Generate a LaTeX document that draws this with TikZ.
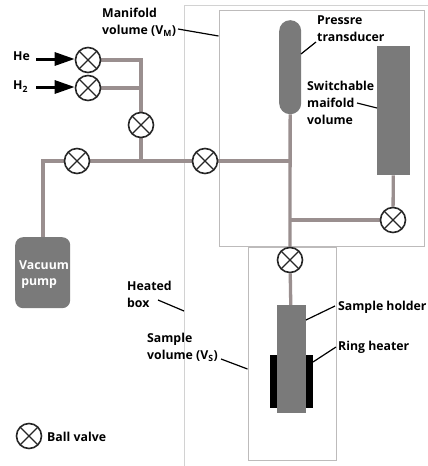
\documentclass[tikz,border=0pt]{standalone}
\usepackage{fontspec}
\setmainfont{Open Sans}
\usetikzlibrary{arrows.meta}
\pgfdeclarelayer{under}
\pgfsetlayers{under,main}
\definecolor{pipecol}{HTML}{9A8F8F}
\definecolor{bodycol}{HTML}{7A7A7A}
\definecolor{boxcol}{HTML}{BDBBBB}
\definecolor{hotcol}{HTML}{D2D2D2}
\tikzset{
  valve/.style={circle,draw=black!85,line width=1.6pt,fill=white,minimum size=25pt,inner sep=0pt,
    path picture={\draw[black!85,line width=1.2pt]
      (path picture bounding box.north west)--(path picture bounding box.south east)
      (path picture bounding box.north east)--(path picture bounding box.south west);}},
  pipe/.style={draw=pipecol,line width=3.3pt},
  body/.style={fill=bodycol,inner sep=0pt,draw=none},
  lab/.style={font=\bfseries\fontsize{12.3}{17}\selectfont,anchor=north west,inner sep=0pt,align=left},
  leader/.style={draw=black,line width=1.2pt},
  feed/.style={draw=black,line width=3pt,-{Triangle[length=20pt,width=13pt]},shorten >=0pt},
  frame/.style={draw=boxcol,line width=0.8pt,inner sep=0pt,fill=white},
}
\begin{document}
\begin{tikzpicture}[x=1pt,y=-1pt]
\useasboundingbox (0,0) rectangle (428,466);
% junctions
\coordinate (jtop) at (141,88);
\coordinate (jmain) at (141,161);
\coordinate (jvert) at (290,161);
\coordinate (jlow) at (290,220);
\coordinate (corner) at (43,161);
\coordinate (jhe) at (141,60);
% valves
\node[valve] (vhe) at (88,60) {};
\node[valve] (vh) at (88,88) {};
\node[valve] (vmid) at (141,125) {};
\node[valve] (vleft) at (77,161) {};
\node[valve] (vcen) at (205,161) {};
\node[valve] (vright) at (393,220) {};
\node[valve] (vbot) at (290,260) {};
\node[valve] (vkey) at (29,436) {};
% bodies
\node[body,anchor=north west,minimum width=55pt,minimum height=71pt,rounded corners=8pt] (pump) at (15,237) {};
\node[body,anchor=north west,minimum width=22pt,minimum height=94pt,rounded corners=10.9pt] (trans) at (279,20) {};
\node[body,anchor=north west,minimum width=33pt,minimum height=129pt] (switch) at (377,46) {};
\node[fill=black,inner sep=0pt,anchor=north west,minimum width=43pt,minimum height=53pt] (ring) at (270,355) {};
\node[body,anchor=north west,minimum width=29pt,minimum height=108pt] (holder) at (277,305) {};
% frames and pipes behind everything
\begin{pgfonlayer}{under}
\draw[hotcol,line width=0.9pt] (428,5) -- (184,5) -- (184,466);
\node[frame,anchor=north west,minimum width=205.5pt,minimum height=236pt] (manifold) at (218.5,10) {};
\node[frame,anchor=north west,minimum width=88.5pt,minimum height=213pt] (samplebox) at (247.5,247) {};
\draw[pipe] (vhe) -- (jhe) -- (vmid);
\draw[pipe] (vh) -- (jtop);
\draw[pipe] (vmid) -- (jmain);
\draw[pipe] (pump.north -| corner) -- (corner) -- (vleft);
\draw[pipe] (vleft) -- (vcen);
\draw[pipe] (vcen) -- (jvert);
\draw[pipe] (trans) -- (vbot);
\draw[pipe] (jlow) -- (vright);
\draw[pipe] (switch) -- (vright);
\draw[pipe] (vbot) -- (holder);
\end{pgfonlayer}
% feeds
\coordinate (hefree) at (36,59);
\coordinate (hfree) at (36,87);
\draw[feed] (hefree) -- (vhe.west |- hefree);
\draw[feed] (hfree) -- (vh.west |- hfree);
% labels
\node[lab] (tman) at (102,8) {Manifold\\volume (V\textsubscript{M})};
\node[lab] (the) at (13,52) {He};
\node[lab] (th) at (13,81) {H\textsubscript{2}};
\node[lab,text=white,font=\bfseries\fontsize{12.3}{16}\selectfont] (tpump) at (19,261) {Vacuum\\\,pump};
\node[lab] (theat) at (127,281) {Heated\\box};
\node[lab] (tsam) at (147,333) {Sample\\volume (V\textsubscript{S})};
\node[lab] (tkey) at (47,432) {Ball valve};
\node[lab] (tpres) at (317,16) {Pressre\\transducer};
\node[lab] (tsw) at (307,81) {Switchable\\maifold\\volume};
\node[lab] (thold) at (338,301) {Sample holder};
\node[lab] (tring) at (338,341) {Ring heater};
% leaders
\coordinate (a1) at (178,29); \coordinate (a2) at (218.5,36);
\coordinate (b1) at (301,54); \coordinate (b2) at (316,42);
\coordinate (c1) at (357,103); \coordinate (c2) at (377,108);
\coordinate (d1) at (158,300); \coordinate (d2) at (184,311);
\coordinate (e1) at (221,359); \coordinate (e2) at (247.5,369);
\coordinate (f1) at (306,320); \coordinate (f2) at (335,306);
\coordinate (g1) at (313,362); \coordinate (g2) at (336,347);
\draw[leader] (a1) -- (a2);
\draw[leader] (b1) -- (b2);
\draw[leader] (c1) -- (c2);
\draw[leader] (d1) -- (d2);
\draw[leader] (e1) -- (e2);
\draw[leader] (f1) -- (f2);
\draw[leader] (g1) -- (g2);
\end{tikzpicture}
\end{document}
